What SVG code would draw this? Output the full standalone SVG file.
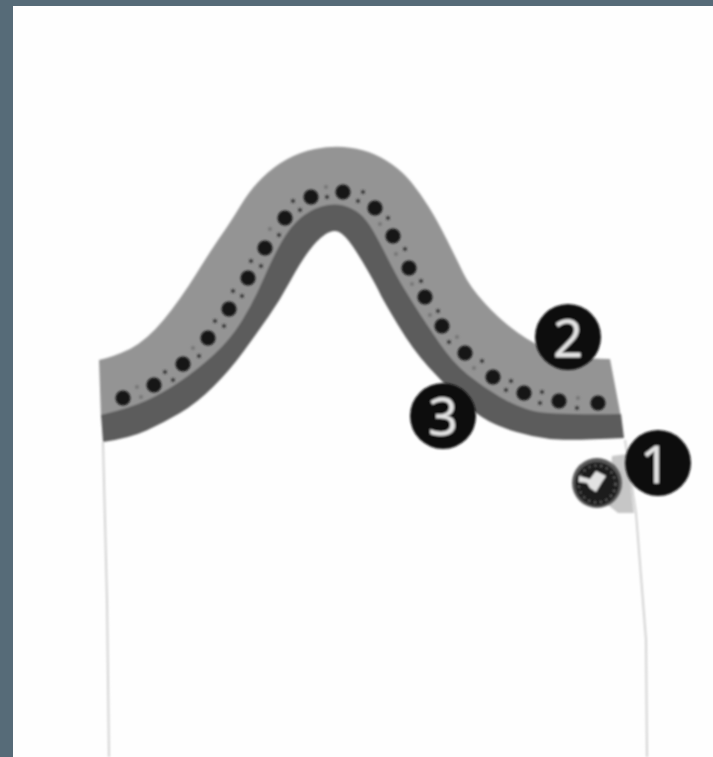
<svg xmlns="http://www.w3.org/2000/svg" width="713" height="757" viewBox="0 0 713 757">
<style>
.bg{fill:#566b78}
.light{fill:#949494}
.dark{fill:#5c5c5c}
.d{fill:#141414}
.s{fill:#3a3a3a}
.t{fill:#7a7a7a}
.edge{fill:none;stroke:#d2d2d2;stroke-width:2}
.badge{fill:#111}
.num{font-family:"Open Sans","Liberation Sans",sans-serif;font-size:52px;fill:#e4e4e4;text-anchor:middle;stroke:#e4e4e4;stroke-width:.5}
</style>
<defs>
<filter id="b" x="-5%" y="-5%" width="110%" height="110%"><feGaussianBlur stdDeviation="1"/></filter>
<filter id="b2" x="-10%" y="-10%" width="120%" height="120%"><feGaussianBlur stdDeviation="0.9"/></filter>
</defs>
<rect width="713" height="757" class="bg"/>
<rect x="13" y="6" width="700" height="751" fill="#fefefe"/>
<g id="sleeve" filter="url(#b)">
<path class="edge" d="M103 442L107 600L109 757"/>
<path class="edge" d="M625 440L636 513L646 640L647 757"/>
<path d="M612 456L627 454L634 513L618 513L608 505Z" fill="#c6c6c6"/>
<path class="light" d="M99 360Q113 357 130 349Q147 340 163.5 320Q180 300 196.5 273.5Q213 247 221.5 235Q230 223 240 206.5Q250 190 261.5 178.5Q273 167 286.5 159.5Q300 152 315 149Q330 146 343.5 147Q357 148 368.5 152Q380 156 391.5 164Q403 172 411.5 182.5Q420 193 428.5 206.5Q437 220 447 240Q457 260 463.5 273.5Q470 287 485 303.5Q500 320 517.5 332.5Q535 345 552.5 351.5Q570 358 610 359L621 417Q550 418 533.5 414Q517 410 500 400Q483 390 468 378Q453 366 439 345.5Q425 325 418 314Q411 303 404 291.5Q397 280 388.5 263Q380 246 373.5 234.5Q367 223 360 217Q353 211 343 208.5Q333 206 321.5 209.5Q310 213 300 221.5Q290 230 281.5 245Q273 260 263 283Q253 306 241.5 324.5Q230 343 213.5 358Q197 373 180 384.5Q163 396 146.5 403.5Q130 411 101 418Z"/>
<path class="dark" d="M101 415Q130 408 146.5 400.5Q163 393 180 381.5Q197 370 213.5 355Q230 340 241.5 321.5Q253 303 263 280Q273 257 281.5 242Q290 227 300 218.5Q310 210 321.5 206.5Q333 203 343 205.5Q353 208 360 214Q367 220 373.5 231.5Q380 243 388.5 260Q397 277 404 288.5Q411 300 418 311Q425 322 439 342.5Q453 363 468 375Q483 387 500 397Q517 407 533.5 411Q550 415 621 414L624 438Q567 441 550 439Q533 437 516.5 432Q500 427 488.5 421Q477 415 461 400Q445 385 429 367.5Q413 350 398 325Q383 300 380 293.5Q377 287 368.5 272Q360 257 352.5 246Q345 235 339 232Q333 229 325 234.5Q317 240 308.5 251.5Q300 263 290 281.5Q280 300 268.5 316.5Q257 333 243.5 351.5Q230 370 213.5 386.5Q197 403 180 413Q163 423 146.5 430.5Q130 438 103 442Z"/>
</g>
<g id="stitches" filter="url(#b2)">
<circle class="d" cx="123" cy="398" r="7.5"/><circle class="d" cx="154" cy="385" r="7.5"/><circle class="d" cx="183" cy="364" r="7.5"/><circle class="d" cx="208" cy="338" r="7.5"/><circle class="d" cx="229" cy="309" r="7.5"/><circle class="d" cx="248" cy="278" r="7.5"/><circle class="d" cx="265" cy="248" r="7.5"/><circle class="d" cx="285" cy="218" r="7.5"/><circle class="d" cx="311" cy="197" r="7.5"/><circle class="d" cx="343" cy="192" r="7.5"/><circle class="d" cx="375" cy="208" r="7.5"/><circle class="d" cx="393" cy="236" r="7.5"/><circle class="d" cx="409" cy="268" r="7.5"/><circle class="d" cx="425" cy="297" r="7.5"/><circle class="d" cx="442" cy="326" r="7.5"/><circle class="d" cx="465" cy="353" r="7.5"/><circle class="d" cx="493" cy="377" r="7.5"/><circle class="d" cx="524" cy="393" r="7.5"/><circle class="d" cx="559" cy="401" r="7.5"/><circle class="d" cx="598" cy="403" r="7.5"/>
<circle class="t" cx="137" cy="387" r="2.2"/><circle class="t" cx="141" cy="397" r="2.2"/>
<circle class="s" cx="165" cy="372" r="2"/><circle class="s" cx="173" cy="380" r="2"/>
<circle class="t" cx="193" cy="348" r="2.2"/><circle class="s" cx="199" cy="356" r="2"/>
<circle class="s" cx="215" cy="321" r="2"/><circle class="s" cx="224" cy="326" r="2"/>
<circle class="s" cx="233" cy="291" r="2"/><circle class="s" cx="242" cy="296" r="2"/>
<circle class="s" cx="251" cy="261" r="2"/><circle class="s" cx="261" cy="266" r="2"/>
<circle class="t" cx="270" cy="229" r="2.2"/><circle class="s" cx="279" cy="235" r="2"/>
<circle class="s" cx="293" cy="201" r="2"/><circle class="s" cx="300" cy="210" r="2"/>
<circle class="t" cx="326" cy="187" r="2.2"/><circle class="s" cx="327" cy="197" r="2"/>
<circle class="s" cx="363" cy="192" r="2"/><circle class="s" cx="358" cy="201" r="2"/>
<circle class="s" cx="388" cy="218" r="2"/><circle class="t" cx="380" cy="224" r="2.2"/>
<circle class="s" cx="405" cy="249" r="2"/><circle class="t" cx="396" cy="254" r="2.2"/>
<circle class="t" cx="412" cy="284" r="2.2"/><circle class="s" cx="421" cy="281" r="2"/>
<circle class="s" cx="438" cy="311" r="2"/><circle class="t" cx="430" cy="315" r="2.2"/>
<circle class="s" cx="449" cy="342" r="2"/><circle class="t" cx="457" cy="337" r="2.2"/>
<circle class="s" cx="482" cy="361" r="2"/><circle class="t" cx="474" cy="368" r="2.2"/>
<circle class="s" cx="511" cy="381" r="2"/><circle class="s" cx="506" cy="390" r="2"/>
<circle class="s" cx="542" cy="392" r="2"/><circle class="s" cx="540" cy="403" r="2"/>
<circle class="t" cx="578" cy="398" r="2.2"/><circle class="s" cx="577" cy="408" r="2"/>
</g>
<g id="icon" filter="url(#b2)">
<circle cx="597" cy="483" r="25" fill="#5a5a5a"/>
<circle cx="597" cy="484" r="22" fill="#1c1c1c"/>
<circle cx="597" cy="484" r="18.5" fill="none" stroke="#666" stroke-width="2" stroke-dasharray="2 4"/>
<path d="M579 476L590 479L596 471L606 476L602 482L596 492L590 488L587 483L579 482Z" fill="#e2e2e2"/>
</g>
<g id="badge-2" filter="url(#b2)"><circle class="badge" cx="568" cy="337" r="33"/><text class="num" x="568" y="357">2</text></g>
<g id="badge-3" filter="url(#b2)"><circle class="badge" cx="443" cy="416" r="33"/><text class="num" x="443" y="435">3</text></g>
<g id="badge-1" filter="url(#b2)"><circle class="badge" cx="658" cy="463" r="33"/><text class="num" x="655" y="483">1</text></g>
</svg>
